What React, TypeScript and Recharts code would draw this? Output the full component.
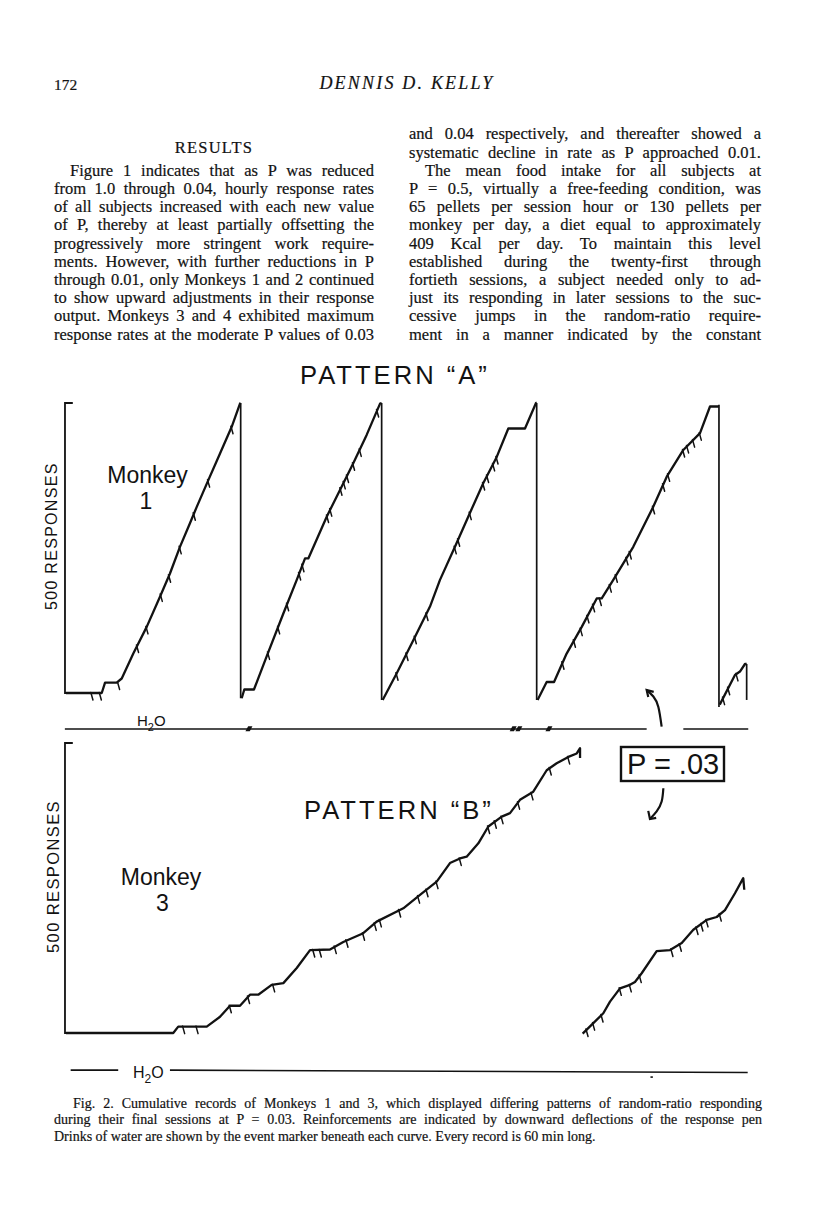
import React from "react";
import { ComposedChart, Line, Scatter, XAxis, YAxis } from "recharts";

type Pt = [number, number];

// ---------------- DATA: minutes (x) and cumulative responses (y) ----------------
const SCALE_RESPONSES = 500;

// Monkey 1 — Pattern "A" (pen resets at the top of the paper)
const m1Seg1: Pt[] = [[0,0],[2.05,0],[3.15,0],[3.44,18],[4.47,18],[4.91,25],[5.93,68],[7.11,114],[8.28,166],[9.16,206],[10.04,252],[10.93,293],[11.52,321],[12.54,367],[13.57,413],[14.6,459],[15.33,499],[15.39,500]];
const m1Seg2: Pt[] = [[15.48,-9],[15.71,6],[16.56,6],[17.68,63],[19.15,137],[20.33,195],[21.06,232],[21.35,232],[22.97,304],[24.14,350],[25.31,396],[26.49,445],[27.67,499],[27.81,500]];
const m1Seg3: Pt[] = [[27.9,-12],[29.14,34],[30.6,91],[32.07,149],[32.95,195],[34.27,252],[35.44,304],[36.77,362],[37.95,407],[38.97,456],[40.44,456],[41.41,500],[41.47,500]];
const m1Seg4: Pt[] = [[41.55,-12],[42.35,19],[43.0,19],[44.11,68],[45.44,114],[46.76,163],[47.2,163],[48.22,195],[49.98,252],[51.74,321],[52.93,373],[54.39,419],[55.86,448],[56.74,494],[57.53,494]];
const m1Seg5: Pt[] = [[57.6,-20],[58.94,31],[59.38,37],[59.82,50],[59.97,50]];
const m1Resets: [number, number, number][] = [[15.39,500,-9],[27.81,500,-12],[41.47,500,-12],[57.53,497,-24],[59.97,50,-12]];
const m1Reinforcements: Pt[] = [
  [2.26,0],[3.0,0],[4.61,18],[6.28,82],[7.11,114],[8.37,170],[9.1,203],[10.04,252],[11.28,310],[12.54,367],[14.6,459],
  [17.82,70],[18.71,114],[19.5,154],[20.56,207],[20.85,221],[23.02,306],[23.3,317],[24.2,353],[24.49,364],[24.78,375],[25.31,396],[25.9,420],[27.43,488],
  [29.14,34],[30.02,68],[30.75,97],[31.78,137],[34.27,252],[34.57,265],[35.59,311],[36.77,362],[37.12,375],[37.65,395],[37.95,407],
  [43.76,53],[44.77,91],[45.37,111],[45.96,133],[46.46,152],[47.05,163],[47.93,186],[48.46,203],[49.4,233],[49.69,243],[51.74,321],[52.63,360],[53.07,377],[54.39,419],[54.74,426],[55.27,436],[55.86,448],
  [57.91,-8],[58.36,9],[59.09,33],
];
// event pen (water): [startMin, endMin, startLevel, endLevel]
const m1Water: [number, number, number, number][] = [[-0.1,51.16,-62,-62],[54.39,60.11,-62,-62]];
const m1Drinks: Pt[] = [[16.12,-62],[39.4,-62],[39.9,-62],[42.55,-62]];
const m1ArrowCurve: Pt[] = [[52.48,-58],[52.19,-24],[51.75,-6],[51.16,5]];
const m1ArrowHead: Pt[] = [[51.78,2],[51.16,5],[51.3,-7]];

// Monkey 3 — Pattern "B"
const m3Seg1: Pt[] = [[0,0],[9.45,0],[9.89,11],[12.4,11],[13.57,28],[14.45,47],[15.33,47],[16.21,66],[16.94,66],[18.12,83],[19.15,86],[20.33,112],[21.5,143],[23.26,144],[24.43,157],[26.19,172],[27.37,192],[29.72,215],[31.19,238],[32.66,261],[33.83,293],[34.71,301],[35.3,304],[36.33,327],[37.21,356],[38.39,373],[39.12,379],[40.0,402],[41.17,416],[42.35,453],[43.23,465],[44.26,476],[45.0,482],[45.29,491],[45.29,474]];
const m3Seg2: Pt[] = [[45.52,-1],[46.46,17],[47.34,34],[47.93,54],[48.81,77],[49.69,83],[50.13,88],[50.72,103],[52.04,141],[53.22,143],[54.25,155],[55.27,178],[56.45,195],[57.33,200],[58.06,212],[58.94,241],[59.67,267],[59.76,247]];
const m3Reinforcements: Pt[] = [
  [10.34,11],[11.52,11],[14.45,47],[16.06,63],[18.27,83],[21.8,143],[22.38,143],[23.7,149],[24.73,160],[26.19,172],[27.22,189],[27.67,195],[29.37,212],[31.04,236],[31.78,247],[32.66,261],[34.71,301],[37.21,356],[37.8,365],[38.39,373],[39.85,398],[41.03,414],[42.64,457],[44.26,476],
  [45.88,6],[46.46,17],[47.2,31],[48.81,77],[49.69,83],[50.57,99],[53.36,144],[54.1,153],[55.57,182],[56.0,188],[56.45,195],[57.62,205],
];
const m3Water: [number, number, number, number][] = [[0.41,4.6,-64,-64],[9.16,60.06,-64,-68]];
const m3Specks: Pt[] = [[51.6,-76]];
const m3ArrowCurve: Pt[] = [[52.63,422],[52.48,399],[52.04,382],[51.45,369]];
const m3ArrowHead: Pt[] = [[51.3,383],[51.45,369],[52.0,371]];

// ---------------- LAYOUT ----------------
const PAGE_W = 816;
const PAGE_H = 1207;
const PX_PER_MIN = 11.35;
const X_ORIGIN = 66;
const PX_PER_RESP = 0.58;
const X_DOMAIN: [number, number] = [-X_ORIGIN / PX_PER_MIN, (PAGE_W - X_ORIGIN) / PX_PER_MIN];
const BRACKET_M = -0.09;
const BRACKET_TICK_M = 0.6;
const INK = "#121212";
const SERIF = "'Liberation Serif', 'Times New Roman', serif";
const SANS = "'Liberation Sans', Arial, sans-serif";

const pts = (a: Pt[]) => a.map(([m, r]) => ({ m, r }));

function TickMark(props: any) {
  const { cx, cy } = props;
  if (cx == null || cy == null) return null;
  return <path d={`M${cx - 0.8},${cy - 0.5} L${cx + 1.3},${cy + 7}`} stroke={INK} strokeWidth={1.5} fill="none" strokeLinecap="round" />;
}
function DrinkMark(props: any) {
  const { cx, cy } = props;
  if (cx == null || cy == null) return null;
  return <path d={`M${cx - 3.5},${cy + 2.2} L${cx - 0.8},${cy - 2.6} L${cx + 3.5},${cy - 2.6} L${cx + 0.8},${cy + 2.2} Z`} fill={INK} />;
}
function Speck(props: any) {
  const { cx, cy } = props;
  if (cx == null || cy == null) return null;
  return <rect x={cx - 1.2} y={cy - 0.8} width={2.4} height={1.6} fill={INK} />;
}

type PanelProps = {
  top: number; height: number; zero: number;
  segments: Pt[][]; resets: [number, number, number][];
  reinf: Pt[]; water: [number, number, number, number][];
  drinks: Pt[]; specks: Pt[]; arrow: Pt[]; arrowHead: Pt[];
};

function RecordPanel(p: PanelProps) {
  const yDomain: [number, number] = [-(p.top + p.height - p.zero) / PX_PER_RESP, (p.zero - p.top) / PX_PER_RESP];
  const bracket = pts([[BRACKET_TICK_M, SCALE_RESPONSES], [BRACKET_M, SCALE_RESPONSES], [BRACKET_M, 0], [0, 0]]);
  return (
    <div style={{ position: "absolute", left: 0, top: p.top, width: PAGE_W, height: p.height }}>
      <ComposedChart width={PAGE_W} height={p.height} margin={{ top: 0, right: 0, bottom: 0, left: 0 }}>
        <XAxis type="number" dataKey="m" domain={X_DOMAIN} hide allowDataOverflow height={0} />
        <YAxis type="number" dataKey="r" domain={yDomain} hide allowDataOverflow width={0} />
        <Line data={bracket} dataKey="r" type="linear" dot={false} activeDot={false} stroke={INK} strokeWidth={1.8} isAnimationActive={false} legendType="none" />
        {p.water.map((w, i) => (
          <Line key={"w" + i} data={pts([[w[0], w[2]], [w[1], w[3]]])} dataKey="r" type="linear" dot={false} activeDot={false} stroke={INK} strokeWidth={1.6} isAnimationActive={false} legendType="none" />
        ))}
        {p.resets.map((r, i) => (
          <Line key={"r" + i} data={pts([[r[0], r[1]], [r[0], r[2]]])} dataKey="r" type="linear" dot={false} activeDot={false} stroke={INK} strokeWidth={1.7} isAnimationActive={false} legendType="none" />
        ))}
        {p.segments.map((s, i) => (
          <Line key={"s" + i} data={pts(s)} dataKey="r" type="linear" dot={false} activeDot={false} stroke={INK} strokeWidth={2.3} strokeLinejoin="round" isAnimationActive={false} legendType="none" />
        ))}
        <Line data={pts(p.arrow)} dataKey="r" type="natural" dot={false} activeDot={false} stroke={INK} strokeWidth={2.2} isAnimationActive={false} legendType="none" />
        <Line data={pts(p.arrowHead)} dataKey="r" type="linear" dot={false} activeDot={false} stroke={INK} strokeWidth={2.2} isAnimationActive={false} legendType="none" />
        <Scatter data={pts(p.reinf)} dataKey="r" shape={TickMark} isAnimationActive={false} legendType="none" />
        <Scatter data={pts(p.drinks)} dataKey="r" shape={DrinkMark} isAnimationActive={false} legendType="none" />
        <Scatter data={pts(p.specks)} dataKey="r" shape={Speck} isAnimationActive={false} legendType="none" />
      </ComposedChart>
    </div>
  );
}

// ---------------- PAGE TEXT ----------------
const leftColumn: string[] = [
  "Figure 1 indicates that as P was reduced",
  "from 1.0 through 0.04, hourly response rates",
  "of all subjects increased with each new value",
  "of P, thereby at least partially offsetting the",
  "progressively more stringent work require-",
  "ments. However, with further reductions in P",
  "through 0.01, only Monkeys 1 and 2 continued",
  "to show upward adjustments in their response",
  "output. Monkeys 3 and 4 exhibited maximum",
  "response rates at the moderate P values of 0.03",
];
const rightColumn: string[] = [
  "and 0.04 respectively, and thereafter showed a",
  "systematic decline in rate as P approached 0.01.",
  "The mean food intake for all subjects at",
  "P = 0.5, virtually a free-feeding condition, was",
  "65 pellets per session hour or 130 pellets per",
  "monkey per day, a diet equal to approximately",
  "409 Kcal per day. To maintain this level",
  "established during the twenty-first through",
  "fortieth sessions, a subject needed only to ad-",
  "just its responding in later sessions to the suc-",
  "cessive jumps in the random-ratio require-",
  "ment in a manner indicated by the constant",
];
const captionLines: string[] = [
  "Fig. 2. Cumulative records of Monkeys 1 and 3, which displayed differing patterns of random-ratio responding",
  "during their final sessions at P = 0.03. Reinforcements are indicated by downward deflections of the response pen",
  "Drinks of water are shown by the event marker beneath each curve. Every record is 60 min long.",
];

function TextLine(props: { text: string; left: number; width: number; baseline: number; size: number; indent?: number; align?: "justify" | "left" | "center"; italic?: boolean; spacing?: number }) {
  const { text, left, width, baseline, size, indent = 0, align = "justify", italic = false, spacing = 0 } = props;
  const L = Math.round(size * 1.08);
  const B = (L - 1.107 * size) / 2 + 0.891 * size;
  return (
    <div style={{ position: "absolute", left: left + indent, top: baseline - B, width: width - indent, height: L, lineHeight: L + "px", fontSize: size, fontFamily: SERIF, fontStyle: italic ? "italic" : "normal", letterSpacing: spacing, textAlign: align, textAlignLast: align as any, color: INK, overflow: "visible", WebkitTextStroke: "0.2px " + INK }}>
      {text}
    </div>
  );
}

const COL_L = { left: 54, width: 320 };
const COL_R = { left: 409, width: 352 };
const BODY_FIRST = 140;
const BODY_STEP = 18.2;
const BODY_SIZE = 16.5;

export default function App() {
  return (
    <div style={{ position: "absolute", left: 0, top: 0, width: PAGE_W, height: PAGE_H, background: "#fff", overflow: "hidden" }}>
      <TextLine text="172" left={54} width={60} baseline={90} size={15.5} align="left" />
      <TextLine text="DENNIS D. KELLY" left={257} width={300} baseline={90} size={18} align="center" italic spacing={2.2} />
      <TextLine text="RESULTS" left={COL_L.left} width={COL_L.width} baseline={BODY_FIRST + 14} size={16.5} align="center" spacing={1.2} />
      {leftColumn.map((t, i) => (
        <TextLine key={"l" + i} text={t} left={COL_L.left} width={COL_L.width} baseline={BODY_FIRST + BODY_STEP * (i + 2)} size={BODY_SIZE} indent={i === 0 ? 16 : 0} />
      ))}
      {rightColumn.map((t, i) => (
        <TextLine key={"r" + i} text={t} left={COL_R.left} width={COL_R.width} baseline={BODY_FIRST + BODY_STEP * i} size={BODY_SIZE} indent={i === 2 ? 16 : 0} />
      ))}

      <RecordPanel top={340} height={395} zero={693}
        segments={[m1Seg1, m1Seg2, m1Seg3, m1Seg4, m1Seg5]} resets={m1Resets}
        reinf={m1Reinforcements} water={m1Water} drinks={m1Drinks} specks={[]}
        arrow={m1ArrowCurve} arrowHead={m1ArrowHead} />
      <RecordPanel top={735} height={362} zero={1033}
        segments={[m3Seg1, m3Seg2]} resets={[]}
        reinf={m3Reinforcements} water={m3Water} drinks={[]} specks={m3Specks}
        arrow={m3ArrowCurve} arrowHead={m3ArrowHead} />

      <svg width={PAGE_W} height={PAGE_H} style={{ position: "absolute", left: 0, top: 0, pointerEvents: "none" }}>
        <g fill={INK} fontFamily={SANS}>
          <text x={300} y={384} fontSize={25.6} letterSpacing={3}>PATTERN “A”</text>
          <text x={304} y={819} fontSize={25.6} letterSpacing={3}>PATTERN “B”</text>
          <text x={147.5} y={483} fontSize={23} textAnchor="middle">Monkey</text>
          <text x={146} y={509} fontSize={23} textAnchor="middle">1</text>
          <text x={161} y={885} fontSize={23} textAnchor="middle">Monkey</text>
          <text x={162.5} y={911} fontSize={23} textAnchor="middle">3</text>
          <text transform="translate(57,610) rotate(-90)" fontSize={16} letterSpacing={1.3}>500  RESPONSES</text>
          <text transform="translate(58.5,953) rotate(-90)" fontSize={16.5} letterSpacing={1.4}>500  RESPONSES</text>
          <text x={137} y={726} fontSize={15}>H<tspan dy={5} fontSize={11}>2</tspan><tspan dy={-5}>O</tspan></text>
          <text x={133} y={1078} fontSize={16}>H<tspan dy={5} fontSize={12}>2</tspan><tspan dy={-5}>O</tspan></text>
          <rect x={621} y={747} width={103} height={34} fill="none" stroke={INK} strokeWidth={2.4} />
          <text x={627} y={773.5} fontSize={29}>P = .03</text>
        </g>
      </svg>

      {captionLines.map((t, i) => (
        <TextLine key={"c" + i} text={t} left={54} width={708} baseline={1108 + 16.5 * i} size={14} indent={i === 0 ? 19 : 0} align={i === 2 ? "left" : "justify"} />
      ))}
    </div>
  );
}
